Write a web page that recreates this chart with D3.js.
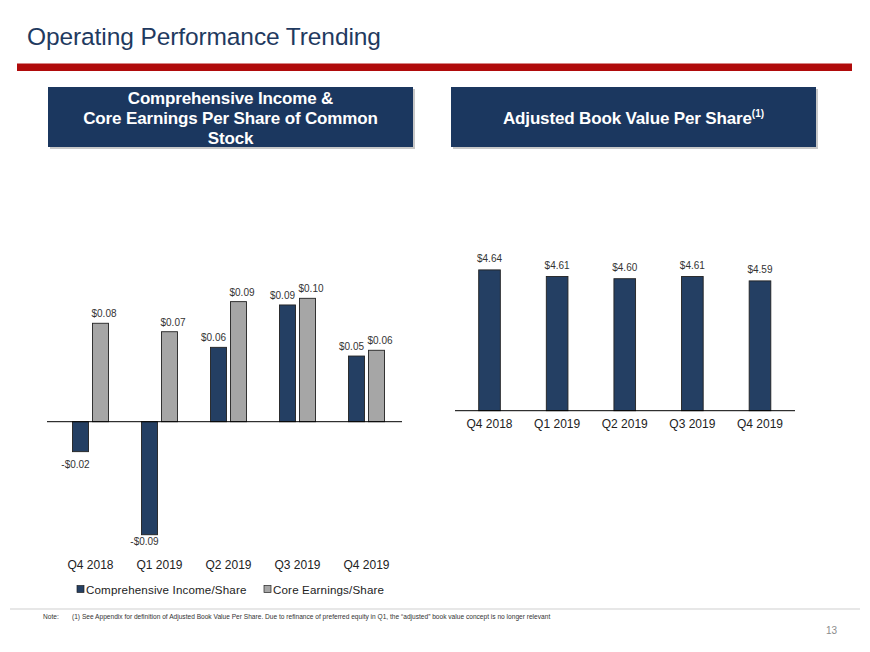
<!DOCTYPE html>
<html>
<head>
<meta charset="utf-8">
<script src="https://cdn.jsdelivr.net/npm/d3@7"></script>
<style>
  html, body { margin: 0; padding: 0; background: #fff; }
  svg { display: block; font-family: "Liberation Sans", Arial, sans-serif; }
</style>
</head>
<body>
<svg id="chart" width="870" height="652"></svg>
<script>
// ---- Data ----
const quarters = ["Q4 2018", "Q1 2019", "Q2 2019", "Q3 2019", "Q4 2019"];
const seriesNames = ["Comprehensive Income/Share", "Core Earnings/Share"];
const comprehensiveIncome = [-0.0234, -0.0883, 0.0581, 0.0912, 0.0513];
const coreEarnings = [0.0769, 0.0703, 0.0938, 0.0964, 0.0558];
const bookValue = [4.64, 4.61, 4.60, 4.61, 4.59];
const bookValueDomain = [4.0, 4.8];
const epsDomain = [-0.1, 0.12];

const navy = "#243f63";
const grey = "#a6a6a6";
const svg = d3.select("#chart");

// ---- Title & header ----
svg.append("text").attr("x", 27).attr("y", 45)
  .attr("font-size", 24.5).attr("fill", "#1f3a60")
  .attr("letter-spacing", -0.1)
  .text("Operating Performance Trending");

svg.append("rect").attr("x", 17).attr("y", 63.5).attr("width", 835).attr("height", 7.5)
  .attr("fill", "#b00b0b");

function headerBox(x, w, lines, yStarts, sup) {
  svg.append("rect").attr("x", x + 2).attr("y", 89).attr("width", w).attr("height", 60)
    .attr("fill", "#c8c8c8");
  svg.append("rect").attr("x", x).attr("y", 87).attr("width", w).attr("height", 60)
    .attr("fill", "#1b375f");
  lines.forEach((l, i) => {
    const t = svg.append("text").attr("x", x + w / 2).attr("y", yStarts[i])
      .attr("text-anchor", "middle").attr("fill", "#fff")
      .attr("font-size", 17).attr("font-weight", "bold").attr("letter-spacing", -0.15)
      .text(l);
    if (sup && i === lines.length - 1) {
      t.append("tspan").attr("font-size", 10).attr("dy", -7).attr("letter-spacing", 0).text(sup);
    }
  });
}
headerBox(48, 365, ["Comprehensive Income &", "Core Earnings Per Share of Common", "Stock"], [104, 123.5, 143.5]);
headerBox(451, 365, ["Adjusted Book Value Per Share"], [123.5], "(1)");

// ---- Left chart ----
const zeroY = 421.7;
const yL = d3.scaleLinear().domain(epsDomain).range([zeroY + 128, zeroY - 153.6]);
const xL = d3.scaleBand().domain(quarters).range([56, 401]).paddingInner(0);
const xSub = d3.scaleBand().domain(seriesNames).range([-18, 18]).paddingInner(0.2);

const leftData = quarters.map((q, i) => [
  { q, s: seriesNames[0], v: comprehensiveIncome[i] },
  { q, s: seriesNames[1], v: coreEarnings[i] }
]).flat();

const gL = svg.append("g");
gL.selectAll("rect.bar").data(leftData).join("rect")
  .attr("x", d => xL(d.q) + xL.bandwidth() / 2 + xSub(d.s))
  .attr("width", xSub.bandwidth())
  .attr("y", d => yL(Math.max(0, d.v)))
  .attr("height", d => Math.abs(yL(d.v) - yL(0)))
  .attr("fill", d => d.s === seriesNames[0] ? navy : grey)
  .attr("stroke", "#222").attr("stroke-width", 0.9);

const fmt = v => (v < 0 ? "-$" : "$") + Math.abs(v).toFixed(2);
const labelShift = s => s === seriesNames[0] ? -5 : 3.5;
gL.selectAll("text.lbl").data(leftData).join("text")
  .attr("x", d => xL(d.q) + xL.bandwidth() / 2 + xSub(d.s) + xSub.bandwidth() / 2 + labelShift(d.s))
  .attr("y", d => d.v >= 0 ? yL(d.v) - 6 : Math.min(yL(d.v) + 16, 545))
  .attr("text-anchor", "middle").attr("font-size", 10).attr("fill", "#333")
  .text(d => fmt(d.v));

svg.append("line").attr("x1", 47).attr("x2", 402).attr("y1", zeroY).attr("y2", zeroY)
  .attr("stroke", "#000").attr("stroke-width", 1);

const axL = svg.append("g").attr("transform", "translate(0,558)")
  .call(d3.axisBottom(xL).tickSize(0).tickPadding(0));
axL.select(".domain").remove();
axL.selectAll("text").attr("font-size", 12).attr("fill", "#222")
  .attr("font-family", "Liberation Sans, Arial, sans-serif").attr("dy", "0.95em");

// Legend
const legend = svg.append("g");
const legX = [77, 264];
seriesNames.forEach((s, i) => {
  legend.append("rect").attr("x", legX[i]).attr("y", 585.5).attr("width", 7).attr("height", 7)
    .attr("fill", i === 0 ? navy : grey).attr("stroke", "#222").attr("stroke-width", 0.7);
  legend.append("text").attr("x", legX[i] + 9).attr("y", 593.5)
    .attr("font-size", 11.6).attr("fill", "#222").attr("letter-spacing", 0.15).text(s);
});

// ---- Right chart ----
const baseR = 410.7;
const yR = d3.scaleLinear().domain(bookValueDomain).range([baseR, baseR - 0.8 * 220]);
const xR = d3.scaleBand().domain(quarters).range([455.7, 793.8]).paddingInner(0.68).paddingOuter(0.34);
const rightData = quarters.map((q, i) => ({ q, v: bookValue[i] }));

const gR = svg.append("g");
gR.selectAll("rect").data(rightData).join("rect")
  .attr("x", d => xR(d.q)).attr("width", xR.bandwidth())
  .attr("y", d => yR(d.v)).attr("height", d => baseR - yR(d.v))
  .attr("fill", navy).attr("stroke", "#222").attr("stroke-width", 0.9);
gR.selectAll("text").data(rightData).join("text")
  .attr("x", d => xR(d.q) + xR.bandwidth() / 2)
  .attr("y", d => yR(d.v) - 8)
  .attr("text-anchor", "middle").attr("font-size", 10).attr("fill", "#333")
  .text(d => "$" + d.v.toFixed(2));

svg.append("line").attr("x1", 455).attr("x2", 795).attr("y1", baseR).attr("y2", baseR)
  .attr("stroke", "#000").attr("stroke-width", 1);
const axR = svg.append("g").attr("transform", `translate(0,${baseR + 5.5})`)
  .call(d3.axisBottom(xR).tickSize(0).tickPadding(0));
axR.select(".domain").remove();
axR.selectAll("text").attr("font-size", 12).attr("fill", "#222")
  .attr("font-family", "Liberation Sans, Arial, sans-serif").attr("dy", "0.95em");

// ---- Footer ----
svg.append("line").attr("x1", 10).attr("x2", 860).attr("y1", 609).attr("y2", 609)
  .attr("stroke", "#cfcfcf").attr("stroke-width", 1);
svg.append("text").attr("x", 43).attr("y", 619).attr("font-size", 6.6).attr("fill", "#333").text("Note:");
svg.append("text").attr("x", 72).attr("y", 619).attr("font-size", 6.6).attr("fill", "#333")
  .text("(1) See Appendix for definition of Adjusted Book Value Per Share. Due to refinance of preferred equity in Q1, the \u201cadjusted\u201d book value concept is no longer relevant");
svg.append("text").attr("x", 837).attr("y", 634).attr("text-anchor", "end")
  .attr("font-size", 10).attr("fill", "#8c8c8c").text("13");
</script>
</body>
</html>
